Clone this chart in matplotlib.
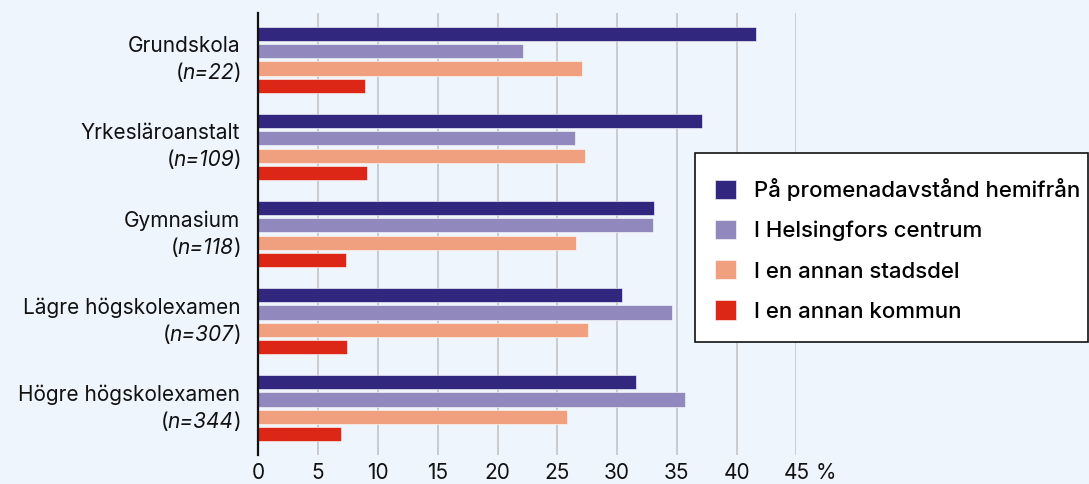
import matplotlib.pyplot as plt
import matplotlib.transforms as mtransforms
import numpy as np
from matplotlib.patches import Patch, Rectangle

plt.rcParams['font.family'] = ['Inter', 'DejaVu Sans']

# Data (percent)
categories = ['Grundskola', 'Yrkesläroanstalt', 'Gymnasium',
              'Lägre högskolexamen', 'Högre högskolexamen']
n_values = [22, 109, 118, 307, 344]
series = ['På promenadavstånd hemifrån', 'I Helsingfors centrum',
          'I en annan stadsdel', 'I en annan kommun']
walking = [41.6, 37.1, 33.1, 30.4, 31.6]
centre = [22.1, 26.5, 33.0, 34.6, 35.7]
other_district = [27.1, 27.3, 26.6, 27.6, 25.8]
other_municipality = [8.9, 9.1, 7.3, 7.4, 6.9]
ticks = [0, 5, 10, 15, 20, 25, 30, 35, 40, 45]

colors = ['#32277f', '#9188bd', '#f0a07f', '#dc2717']
bg = '#eef5fd'
txt = '#111111'
fs = 15

fig = plt.figure(figsize=(10.89, 4.84), dpi=100, facecolor=bg)
ax = fig.add_axes([0.2372, 0.0599, 0.7314 - 0.2372, 0.9731 - 0.0599])
ax.set_facecolor(bg)

values = [walking, centre, other_district, other_municipality]
group_pos = np.arange(len(categories)) * 5
handles = []
for i, vals in enumerate(values):
    ax.barh(group_pos + i, vals, height=0.82, color=colors[i],
            edgecolor='white', linewidth=0.4, zorder=3)
    handles.append(Patch(facecolor=colors[i], edgecolor='white', linewidth=0.4))

ax.set_xlim(0, 45)
ax.set_ylim(23 + 1.19, -1.19)
ax.set_xticks(ticks)
ax.set_xticklabels([str(t) for t in ticks], fontsize=fs, color=txt)
ax.annotate('%', xy=(45, 0), xycoords=('data', 'axes fraction'),
            xytext=(13.5, -5.5), textcoords='offset points', ha='left', va='top',
            fontsize=fs, color=txt)
ax.tick_params(axis='x', length=0, pad=5.5)
ax.set_yticks([])

# category labels: two lines, second one "(n=..)" with italic part
renderer = fig.canvas.get_renderer()
yaxis_tr = mtransforms.blended_transform_factory(ax.transAxes, ax.transData)
for c, n, g in zip(categories, n_values, group_pos):
    yc = g + 1.5
    base = mtransforms.offset_copy(yaxis_tr, fig=fig, x=-18, y=13.5, units='dots')
    ax.text(0, yc, c, transform=base, ha='right', va='center',
            fontsize=fs, color=txt)
    x_off = -18
    for piece, style in [(')', 'normal'), ('n=' + str(n), 'italic'), ('(', 'normal')]:
        tr = mtransforms.offset_copy(yaxis_tr, fig=fig, x=x_off, y=-13.5, units='dots')
        t = ax.text(0, yc, piece, transform=tr, ha='right', va='center',
                    fontsize=fs, color=txt, style=style)
        x_off -= t.get_window_extent(renderer).width - 1.0

ax.grid(axis='x', color='#c4c4c8', linewidth=1.2, zorder=0)
for s in ['top', 'right', 'bottom']:
    ax.spines[s].set_visible(False)
ax.spines['left'].set_linewidth(1.6)
ax.spines['left'].set_color(txt)
ax.spines['left'].set_zorder(4)

# legend with a separate frame
fig.patches.append(Rectangle((695 / 1089, 1 - 341.7 / 484), (1087.5 - 695) / 1089,
                             (341.7 - 153.3) / 484, transform=fig.transFigure,
                             facecolor='white', edgecolor=txt, linewidth=1.2,
                             zorder=5))
leg = fig.legend(handles, series, loc='center left',
                 bbox_to_anchor=(715 / 1089, 1 - 250 / 484),
                 frameon=False, handlelength=0.95, handleheight=0.95,
                 handletextpad=0.8, labelspacing=0.85, borderpad=0,
                 borderaxespad=0, prop={'weight': 'medium', 'size': 16})
leg.set_zorder(6)

fig.savefig('out.png', dpi=100, facecolor=bg)
